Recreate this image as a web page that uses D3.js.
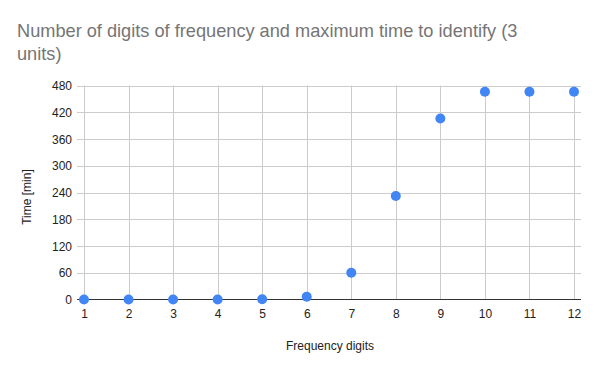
<!DOCTYPE html>
<html><head><meta charset="utf-8">
<script src="https://cdn.jsdelivr.net/npm/d3@7"></script>
<style>body{margin:0;background:#fff;} svg{display:block;font-family:"Liberation Sans",Arial,sans-serif;}</style>
</head><body>
<script>
const digits = [1,2,3,4,5,6,7,8,9,10,11,12];
const timeMin = [0,0,0,0.05,0.5,6,60,232,406,466,466,466];
const yTicks = [0,60,120,180,240,300,360,420,480];
const titleLines = ["Number of digits of frequency and maximum time to identify (3","units)"];

const W=600,H=371;
const svg=d3.select("body").append("svg").attr("width",W).attr("height",H);
const x=d3.scaleLinear().domain([0.843,12.157]).range([77,581]);
const y=d3.scaleLinear().domain([0,480]).range([299.5,85.5]);

svg.append("g").selectAll("text").data(titleLines).join("text")
  .attr("x",17).attr("y",(d,i)=>37+i*23).attr("fill","#757575")
  .style("font-size","18.2px").text(d=>d);

const grid=svg.append("g");
grid.selectAll("line.h").data(yTicks.filter(d=>d>0)).join("line")
  .attr("x1",77).attr("x2",581).attr("y1",d=>Math.round(y(d))+0.5).attr("y2",d=>Math.round(y(d))+0.5)
  .attr("stroke","#cccccc");
grid.selectAll("line.v").data(digits).join("line")
  .attr("y1",85.5).attr("y2",299).attr("x1",d=>Math.round(x(d))+0.5).attr("x2",d=>Math.round(x(d))+0.5)
  .attr("stroke","#cccccc");

const yAxis=d3.axisLeft(y).tickValues(yTicks).tickSize(0).tickPadding(5);
const gy=svg.append("g").attr("transform","translate(77,0)").call(yAxis);
gy.select(".domain").remove();
gy.selectAll("text").attr("fill","#222").style("font-size","12px").attr("dy","0.35em");

const xAxis=d3.axisBottom(x).tickValues(digits).tickSize(0).tickPadding(10);
const gx=svg.append("g").attr("transform","translate(0,299.5)").call(xAxis);
gx.select(".domain").remove();
gx.selectAll("text").attr("fill","#222").style("font-size","12px");

svg.append("line").attr("x1",77).attr("x2",581).attr("y1",y(0)).attr("y2",y(0)).attr("stroke","#333").attr("stroke-width",1);

svg.append("g").selectAll("circle").data(digits).join("circle")
  .attr("cx",d=>x(d)).attr("cy",(d,i)=>y(timeMin[i])).attr("r",5).attr("fill","#4285f4");

svg.append("text").attr("x",330).attr("y",350).attr("text-anchor","middle").attr("fill","#222").style("font-size","12px").text("Frequency digits");
svg.append("text").attr("transform","translate(31,197) rotate(-90)").attr("text-anchor","middle").attr("fill","#222").style("font-size","12px").text("Time [min]");
</script>
</body></html>
